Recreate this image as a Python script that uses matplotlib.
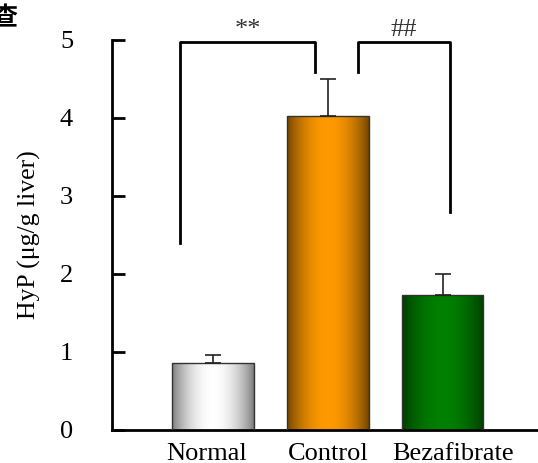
import numpy as np
import matplotlib
matplotlib.use("Agg")
import matplotlib.pyplot as plt
from matplotlib.colors import LinearSegmentedColormap
from matplotlib.patches import Rectangle
from matplotlib.transforms import ScaledTranslation

categories = ["Normal", "Control", "Bezafibrate"]
values = [0.86, 4.03, 1.73]
errors = [0.10, 0.47, 0.27]
center_colors = ["#ffffff", "#ff9900", "#008000"]
edge_colors = ["#7a7a7a", "#6e4300", "#003a00"]
yticks = [0, 1, 2, 3, 4, 5]
ylabel = "HyP (μg/g liver)"
sig_labels = ["**", "##"]

plt.rcParams['font.family'] = ['Liberation Serif', 'DejaVu Serif']

fig = plt.figure(figsize=(5.38, 4.63), dpi=100)
ax = fig.add_axes([112/538, 33/463, 1 - 112/538, (430-40)/463])

x = np.arange(len(categories))
width = 0.71
ax.set_xlim(-0.88, 2.83)
ax.set_ylim(0, 5)

# gradient profile: dark edges, bright centre
t = np.linspace(0, 1, 256)
prof = np.clip(np.sin(np.pi * t) ** 0.8, 0, 1)
for xi, v, cc, ec in zip(x, values, center_colors, edge_colors):
    cmap = LinearSegmentedColormap.from_list("g", [ec, cc])
    img = ax.imshow(prof[np.newaxis, :], cmap=cmap, aspect='auto',
                    extent=[xi - width/2, xi + width/2, 0, v], vmin=0, vmax=1, zorder=2)
    rect = Rectangle((xi - width/2, 0), width, v, fill=False, edgecolor="#333333", lw=1.0, zorder=3)
    ax.add_patch(rect)
    img.set_clip_path(rect)

ax.errorbar(x, values, yerr=[np.zeros(len(errors)), errors], fmt='none',
            ecolor='#222222', elinewidth=1.2, capsize=5.5, capthick=1.2, zorder=4)

ax.set_aspect('auto')

# significance brackets
top = 4.97
ax.plot([x[0] - 0.29, x[0] - 0.29, x[1] - 0.11, x[1] - 0.11], [2.4, top, top, 4.59],
        color='black', lw=2, clip_on=False, zorder=5)
ax.plot([x[1] + 0.26, x[1] + 0.26, x[2] + 0.06, x[2] + 0.06], [4.59, top, top, 2.8],
        color='black', lw=2, clip_on=False, zorder=5)
ax.text((x[0] - 0.29 + x[1] - 0.11) / 2, 4.99, sig_labels[0], ha='center', va='bottom',
        fontsize=19, color='#333333')
ax.text((x[1] + 0.26 + x[2] + 0.06) / 2, 4.99, sig_labels[1], ha='center', va='bottom',
        fontsize=19, color='#333333')

ax.spines['top'].set_visible(False)
ax.spines['right'].set_visible(False)
ax.spines['left'].set_linewidth(2)
ax.spines['bottom'].set_linewidth(2)
ax.set_yticks(yticks)
ax.set_yticklabels([str(v) for v in yticks])
ax.tick_params(axis='y', direction='in', length=9, width=2, labelsize=19, pad=28)
ax.set_xticks(x)
ax.set_xticklabels(categories)
ax.tick_params(axis='x', length=0, labelsize=19, pad=9)
for lbl, dx in zip(ax.get_xticklabels(), [-6, 0, 10]):
    lbl.set_transform(lbl.get_transform() + ScaledTranslation(dx / 100, 0, fig.dpi_scale_trans))
ax.set_ylabel(ylabel, fontsize=18.5)
ax.yaxis.set_label_coords(-0.167, 0.5)

fig.text(-8/538, 1 - 6/463, "查", fontsize=18, fontweight='bold', va='top', ha='left',
         family=['Noto Sans CJK SC', 'DejaVu Sans'])

fig.savefig("out.png", dpi=100)
